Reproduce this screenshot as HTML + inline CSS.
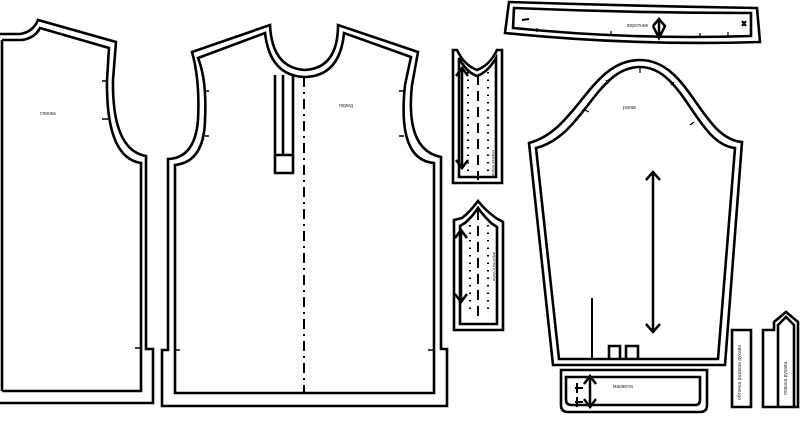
<!DOCTYPE html>
<html><head><meta charset="utf-8"><style>
html,body{margin:0;padding:0;background:#fff;width:800px;height:423px;overflow:hidden}
svg{display:block}
text{font-family:"Liberation Sans",sans-serif;fill:#333}
</style></head><body>
<svg width="800" height="423" viewBox="0 0 800 423" xmlns="http://www.w3.org/2000/svg">
<g fill="none" stroke="#000" stroke-width="2.6" stroke-linejoin="miter">
<!-- back -->
<path d="M0,34 L20,34 Q33,32 38,20 L116,42 L113,80 Q112,150 146,156 L146,349 L153,349 L153,403 L0,403"/>
<path d="M2,40 L22,40 Q35,38 40,28 L109,48 L107,80 Q106,158 141,163 L141,391 L2,391"/>
<path d="M2,40 L2,391"/>
<!-- front -->
<path d="M192,52 L270,25 Q272,68 305,70 Q338,68 338,25 L418,52 L412,85 Q405,150 441,157 L441,349 L447,349 L447,406 L162,406 L162,350 L168,350 L168,159 Q195,158 198,120 Q200,80 192,52 Z"/>
<path d="M198,58 L265,33 Q270,76 305,77 Q340,76 344,33 L411,57 L405,85 Q397,160 434,163 L434,393 L175,393 L175,165 Q204,162 205,120 Q207,80 198,58 Z"/>
<path d="M275,75 L275,173 L293,173 L293,75 M275,155 L293,155 M283,75 L283,155"/>
<!-- collar -->
<path d="M509,2 Q633,6 757,8 L760,42 Q633,46 505,33 Z"/>
<path d="M514,8 Q633,13 751,13 L751,36 Q633,40 513,28 Z"/>
<!-- placket 1 -->
<path d="M453,50 L453,183 L502,183 L502,50 L497,50 Q490,65 477,70 Q464,65 457,50 Z"/>
<path d="M459,58 L459,177 L496,177 L496,58 Q488,72 477,76 Q466,72 459,58 Z"/>
<!-- placket 2 -->
<path d="M454,220 L454,330 L503,330 L503,222 L496,218 Q485,210 478,201 Q470,212 462,218 Z"/>
<path d="M460,226 L460,324 L497,324 L497,227 L491,223 Q483,215 478,208 Q472,217 465,223 Z"/>
<!-- sleeve -->
<path d="M529,143 C578,130 590,60 640,60 C690,60 700,138 742,142 L725,365 L553,365 Z"/>
<path d="M536,148 C584,136 596,67 640,67 C684,67 696,144 735,148 L718,359 L559,359 Z"/>
<path d="M609,359 L609,346 L620,346 L620,359 M626,359 L626,346 L638,346 L638,359"/>
<!-- cuff -->
<path d="M561,370 L707,370 L707,405 Q707,412 700,412 L568,412 Q561,412 561,405 Z"/>
<path d="M566,377 L700,377 L700,400 Q700,405 695,405 L572,405 Q566,405 566,400 Z"/>
<!-- strips -->
<path d="M732,330 L751,330 L751,407 L732,407 Z"/>
<path d="M763,330 L774,330 L774,322 L786,312 L798,322 L798,407 L763,407 Z"/>
<path d="M778,407 L778,325 L786,317 L794,325 L794,407"/>
</g>
<g stroke="#000" stroke-width="1.5" fill="none">
<path d="M102,81 L108,81 M102,119 L108,119 M135,348 L141,348 M205,91 L209,91 M205,136 L209,136 M399,91 L404,91 M399,136 L404,136 M176,350 L180,350 M428,350 L434,350"/>
<path d="M304,77 L304,393" stroke-dasharray="10,5,2,5" stroke-width="2"/>
<path d="M592,298 L592,359" stroke-width="2"/>
<path d="M653,172 L653,332 M646,180 L653,172 L660,180 M646,324 L653,332 L660,324" stroke-width="2.5"/>
<path d="M462,68 L462,168 M456,76 L462,68 L468,76 M456,160 L462,168 L468,160" stroke-width="2.5"/>
<path d="M461,230 L461,302 M455,238 L461,230 L467,238 M455,294 L461,302 L467,294" stroke-width="2.5"/>
<path d="M478,75 L478,180 M478,210 L478,320" stroke-dasharray="10,6" stroke-width="2"/>
<path d="M468,72 L468,175 M488,72 L488,175 M470,225 L470,315 M488,225 L488,315" stroke-dasharray="1.5,6" stroke-width="2"/>
<path d="M590,376 L590,407 M584,384 L590,376 L596,384 M584,399 L590,407 L596,399" stroke-width="2.5"/>
<path d="M575,388 L583,388 M577,383 L577,393 M575,402 L583,402 M577,397 L577,407" stroke-width="2"/>
<path d="M659,20 L659,38 M653,26 L659,19 L665,26 L659,38 L653,26" stroke-width="2.5"/>
<path d="M522,20 L529,19 M742,21 L746,26 M746,21 L742,26" stroke-width="2"/>
<path d="M537,28 L537,32 M611,31 L611,36 M700,33 L700,38 M728,32 L728,37" stroke-width="1.2"/>
<path d="M640,67 L640,73 M606,80 L608,84 M585,110 L589,112 M674,82 L671,85 M694,122 L690,125" stroke-width="1.2"/>
</g>
<text x="40" y="115" font-size="5">спинка</text>
<text x="339" y="107" font-size="5">перед</text>
<text x="623" y="109" font-size="5">рукав</text>
<text x="627" y="27" font-size="5">воротник</text>
<text x="613" y="388" font-size="5">манжета</text>
<text transform="translate(741,400) rotate(-90)" font-size="5">обтачка разреза рукава</text>
<text transform="translate(787,395) rotate(-90)" font-size="5">планка рукава</text>
<text transform="translate(492,150) rotate(90)" font-size="4">нижняя планка</text>
<text transform="translate(493,252) rotate(90)" font-size="4">верхняя планка</text>
</svg>
</body></html>
